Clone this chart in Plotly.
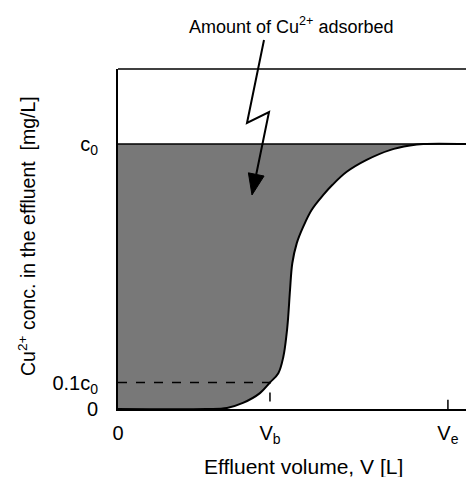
import plotly.graph_objects as go

# Breakthrough curve (effluent volume in units of V_b, concentration in units of c0)
volume = [0.0, 0.58, 0.717, 0.822, 0.934, 1.0, 1.055, 1.088, 1.110, 1.120, 1.132,
          1.147, 1.176, 1.219, 1.274, 1.351, 1.410, 1.505, 1.636, 1.789, 1.921,
          2.009, 2.29]
conc = [0.0, 0.0, 0.004, 0.023, 0.060, 0.100, 0.135, 0.197, 0.286, 0.348, 0.449,
        0.550, 0.625, 0.688, 0.751, 0.808, 0.845, 0.895, 0.940, 0.977, 0.994,
        1.0, 1.0]

x_ticks = [0, 1.0, 2.171]
x_tick_labels = ["0", "V<sub>b</sub>", "V<sub>e</sub>"]
y_ticks = [0, 0.1, 1.0]
y_tick_labels = ["0", "0.1c<sub>0</sub>", "c<sub>0</sub>"]

W, H = 466, 477
L, R, T, B = 118, 0, 69, 68
XMAX = 2.29
YMAX = 1.283
FONT = "Liberation Sans, Arial, sans-serif"

def px2paper(px, py):
    return ((px - L) / (W - L - R), (H - B - py) / (H - T - B))

fig = go.Figure()
# c0 line
fig.add_trace(go.Scatter(x=[0, XMAX], y=[1.0, 1.0], mode="lines",
                         line=dict(color="black", width=1.5), showlegend=False,
                         hoverinfo="skip"))
# breakthrough curve with shaded adsorbed area
fig.add_trace(go.Scatter(x=volume, y=conc, mode="lines",
                         line=dict(color="black", width=2, shape="spline", smoothing=1.0),
                         fill="tonexty", fillcolor="#787878", showlegend=False,
                         hoverinfo="skip"))
# dashed guides at 0.1 c0 / V_b
fig.add_trace(go.Scatter(x=[0, x_ticks[1], x_ticks[1]], y=[y_ticks[1], y_ticks[1], 0],
                         mode="lines", line=dict(color="black", width=1.5, dash="dash"),
                         showlegend=False, hoverinfo="skip"))

shapes = []
# top border
shapes.append(dict(type="line", xref="paper", yref="paper", x0=0, x1=1, y0=1, y1=1,
                   line=dict(color="black", width=1.5)))
# Ve tick mark
shapes.append(dict(type="line", xref="x", yref="y", x0=x_ticks[2], x1=x_ticks[2],
                   y0=0, y1=0.035, line=dict(color="black", width=1.5)))

# zigzag arrow (pointer geometry in pixels)
pts = [(264, 40), (247, 123), (269, 112)]
tip = (252, 195)
sx, sy = pts[-1]
dx, dy = tip[0] - sx, tip[1] - sy
ln = (dx * dx + dy * dy) ** 0.5
ux, uy = dx / ln, dy / ln
hl, hw = 21, 8
bc = (tip[0] - hl * ux, tip[1] - hl * uy)
b1 = (bc[0] - hw * uy, bc[1] + hw * ux)
b2 = (bc[0] + hw * uy, bc[1] - hw * ux)
line_pts = pts + [bc]
path = "M " + " L ".join("%f,%f" % px2paper(*p) for p in line_pts)
shapes.append(dict(type="path", xref="paper", yref="paper", path=path,
                   line=dict(color="black", width=2)))
head = "M " + " L ".join("%f,%f" % px2paper(*p) for p in [tip, b1, b2]) + " Z"
shapes.append(dict(type="path", xref="paper", yref="paper", path=head,
                   line=dict(color="black", width=1), fillcolor="black"))

annotations = []
ax_, ay_ = px2paper(291, 25)
annotations.append(dict(text="Amount of Cu<sup>2+</sup> adsorbed", x=ax_, y=ay_,
                        xref="paper", yref="paper", showarrow=False,
                        xanchor="center", yanchor="middle",
                        font=dict(family=FONT, size=18, color="black")))
tx, ty = px2paper(303, 466)
annotations.append(dict(text="Effluent volume, V [L]", x=tx, y=ty,
                        xref="paper", yref="paper", showarrow=False,
                        xanchor="center", yanchor="middle",
                        font=dict(family=FONT, size=21, color="black")))
yx, yy = px2paper(27, 236)
annotations.append(dict(text="Cu<sup>2+</sup> conc. in the effluent  [mg/L]", x=yx, y=yy,
                        xref="paper", yref="paper", showarrow=False, textangle=-90,
                        xanchor="center", yanchor="middle",
                        font=dict(family=FONT, size=19.5, color="black")))

fig.update_layout(
    width=W, height=H,
    margin=dict(l=L, r=R, t=T, b=B, pad=0),
    paper_bgcolor="white", plot_bgcolor="white",
    shapes=shapes, annotations=annotations,
    xaxis=dict(range=[0, XMAX], showgrid=False, zeroline=False, showline=True,
               linecolor="black", linewidth=2, ticks="", tickvals=x_ticks,
               ticktext=x_tick_labels, ticklabelstandoff=5,
               tickfont=dict(family=FONT, size=20, color="black")),
    yaxis=dict(range=[0, YMAX], showgrid=False, zeroline=False, showline=True,
               linecolor="black", linewidth=2, ticks="", tickvals=y_ticks,
               ticktext=y_tick_labels, ticklabelstandoff=14,
               tickfont=dict(family=FONT, size=20, color="black")),
)

fig.write_html("out.html")
